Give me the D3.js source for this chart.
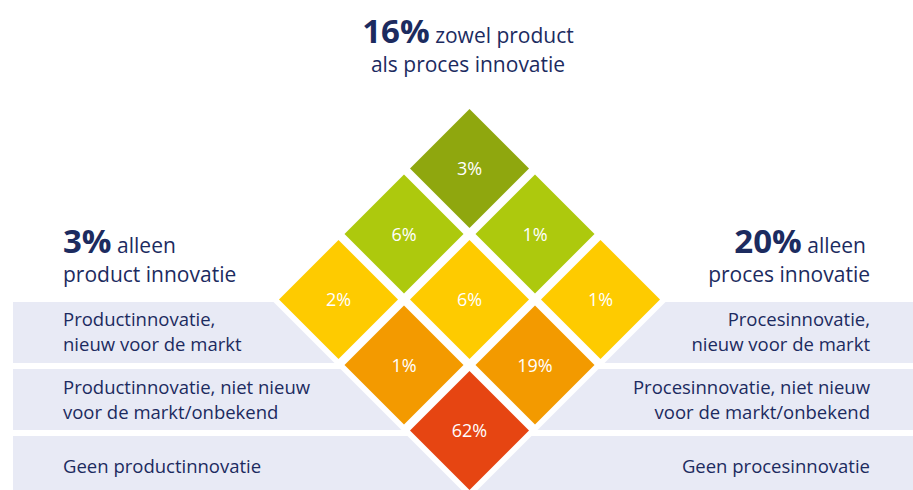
<!DOCTYPE html>
<html>
<head>
<meta charset="utf-8">
<script src="https://cdn.jsdelivr.net/npm/d3@7"></script>
<style>
  body { margin: 0; background: #fff; }
  svg { display: block; font-family: "Open Sans", sans-serif; }
</style>
</head>
<body>
<svg id="chart"></svg>
<script>
// rows = product innovation level, columns = process innovation level
var productLabels = [
  ["Productinnovatie,", "nieuw voor de markt"],
  ["Productinnovatie, niet nieuw", "voor de markt/onbekend"],
  ["Geen productinnovatie"]
];
var processLabels = [
  ["Procesinnovatie,", "nieuw voor de markt"],
  ["Procesinnovatie, niet nieuw", "voor de markt/onbekend"],
  ["Geen procesinnovatie"]
];
var shares = [
  [3, 6, 2],
  [1, 6, 1],
  [1, 19, 62]
];
var ringColors = ["#8fa70e", "#adc90d", "#fecb00", "#f39a00", "#e64512"];
var headBoth = ["zowel product", "als proces innovatie"];
var headProduct = ["alleen", "product innovatie"];
var headProcess = ["alleen", "proces innovatie"];

var W = 913, H = 490;
var navy = "#1c2b5f", bandFill = "#e8eaf5";

var svg = d3.select("#chart").attr("width", W).attr("height", H);

// diamond grid scales: x by (p - q), y by (p + q)
var xs = d3.scaleLinear().domain([-2, 2]).range([338.5, 600.5]);
var ys = d3.scaleLinear().domain([0, 4]).range([168.5, 430.5]);
var half = 59.5;

var band = d3.scaleBand().domain([0, 1, 2]).range([302, 497]).paddingInner(0.09);

// summary numbers
var both = 0, prodOnly = 0, procOnly = 0;
shares.forEach(function (row, p) {
  row.forEach(function (v, q) {
    if (p < 2 && q < 2) both += v;
    else if (p < 2 && q == 2) prodOnly += v;
    else if (p == 2 && q < 2) procOnly += v;
  });
});

// background bands
band.domain().forEach(function (i) {
  svg.append("rect").attr("x", 13).attr("y", band(i))
    .attr("width", xs(0) - 13).attr("height", band.bandwidth()).attr("fill", bandFill);
  svg.append("rect").attr("x", xs(0)).attr("y", band(i))
    .attr("width", W - xs(0)).attr("height", band.bandwidth()).attr("fill", bandFill);
});

// white outline behind the grid
var e = 8;
var outline = [
  [xs(0), ys(0) - half - e],
  [xs(2) + half + e, ys(2)],
  [xs(0), ys(4) + half + e],
  [xs(-2) - half - e, ys(2)]
];
svg.append("polygon").attr("points", outline.map(function (d) { return d.join(","); }).join(" "))
  .attr("fill", "#fff");

// cells
var cells = [];
shares.forEach(function (row, p) {
  row.forEach(function (v, q) { cells.push({ p: p, q: q, v: v }); });
});

var g = svg.append("g");
g.selectAll("path.cell").data(cells).enter().append("path")
  .attr("class", "cell")
  .attr("fill", function (d) { return ringColors[d.p + d.q]; })
  .attr("d", function (d) {
    var cx = xs(d.p - d.q), cy = ys(d.p + d.q);
    return "M" + cx + "," + (cy - half) + "L" + (cx + half) + "," + cy +
      "L" + cx + "," + (cy + half) + "L" + (cx - half) + "," + cy + "Z";
  });

g.selectAll("text.val").data(cells).enter().append("text")
  .attr("class", "val")
  .attr("x", function (d) { return xs(d.p - d.q); })
  .attr("y", function (d) { return ys(d.p + d.q) + 6.5; })
  .attr("text-anchor", "middle")
  .attr("fill", "#fff")
  .style("font-size", "18px")
  .text(function (d) { return d.v + "%"; });

// band labels
function bandLabel(lines, i, x, anchor) {
  var n = lines.length, lh = 25;
  var cy = band(i) + band.bandwidth() / 2;
  var t = svg.append("text").attr("text-anchor", anchor).attr("fill", navy).style("font-size", "18.5px");
  lines.forEach(function (l, k) {
    t.append("tspan").attr("x", x).attr("y", cy + 6.5 + (k - (n - 1) / 2) * lh).text(l);
  });
}
productLabels.forEach(function (l, i) { bandLabel(l, i, 63, "start"); });
processLabels.forEach(function (l, i) { bandLabel(l, i, 870, "end"); });

// headlines
function headline(num, words, x, y, anchor, x2) {
  var t = svg.append("text").attr("x", x).attr("y", y).attr("text-anchor", anchor).attr("fill", navy);
  t.append("tspan").style("font-size", "33px").style("font-weight", 700).text(num + "%");
  t.append("tspan").style("font-size", "21px").text(" " + words[0]);
  svg.append("text").attr("x", x2 == null ? x : x2).attr("y", y + 29).attr("text-anchor", anchor)
    .attr("fill", navy).style("font-size", "21px").text(words[1]);
}
headline(both, headBoth, 468, 43, "middle");
headline(prodOnly, headProduct, 63, 253, "start");
headline(procOnly, headProcess, 866, 253, "end", 870);
</script>
</body>
</html>
